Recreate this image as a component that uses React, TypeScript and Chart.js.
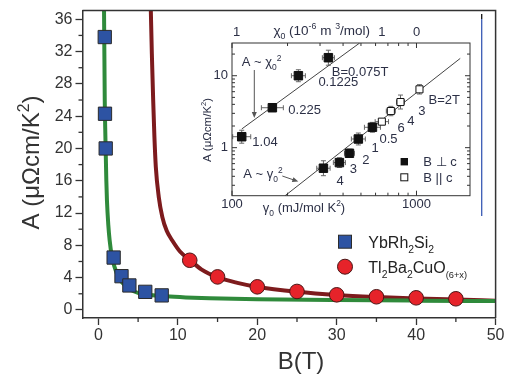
import React, { useEffect, useRef } from "react";
import { Chart, registerables } from "chart.js";

Chart.register(...registerables);

const FONT = '"Liberation Sans", Arial, Helvetica, sans-serif';

// ---------------- main panel data ----------------
const ybField = [0.8, 0.83, 0.92, 1.92, 2.91, 3.9, 5.9, 7.97];
const ybA = [33.8, 24.3, 20.0, 6.49, 4.18, 3.03, 2.24, 1.8];
const tlField = [11.5, 15, 20, 25, 30, 35, 40, 45];
const tlA = [6.15, 4.09, 2.86, 2.29, 1.87, 1.63, 1.5, 1.38];

const ybFitField = [0.69, 0.71, 0.76, 0.8, 0.86, 0.92, 1.0, 1.08, 1.25, 1.42, 1.7, 2.04, 2.5, 3.07, 4, 5.15, 6.5, 8.5, 11, 14, 20, 30, 40, 50];
const ybFitA = [40, 37.1, 31, 26, 22.5, 19.7, 16, 13.5, 10.5, 8.6, 6.6, 5.3, 4.1, 3.3, 2.55, 2.05, 1.85, 1.68, 1.55, 1.45, 1.33, 1.22, 1.15, 1.1];
const tlFitField = [6.55, 6.6, 6.75, 6.9, 7.05, 7.23, 7.6, 8.05, 8.6, 9.3, 10.3, 11.5, 13, 15, 17.5, 20, 25, 30, 35, 40, 45, 50];
const tlFitA = [40, 37.1, 31, 25.9, 21.5, 17.7, 14, 11.5, 9.8, 8.6, 7.2, 6.2, 5.0, 4.05, 3.35, 2.85, 2.25, 1.85, 1.6, 1.42, 1.28, 1.15];

const xTicks = [0, 10, 20, 30, 40, 50];
const xMinorTicks = [5, 15, 25, 35, 45];
const yTicks = [0, 4, 8, 12, 16, 20, 24, 28, 32, 36];
const yMinorTicks = [2, 6, 10, 14, 18, 22, 26, 30, 34];

const legendNames = ["YbRh2Si2", "Tl2Ba2CuO(6+x)"];

// ---------------- inset data ----------------
const chiGamma = [112.9, 165.5, 229, 333];
const chiA = [1.42, 3.59, 10, 17.8];
const chiLabels = ["1.04", "0.225", "0.1225", "B=0.075T"];
const chiGammaErr = [1.119, 1.147, 1.091, 1.078];
const chiAErr = [1.231, 1, 1.211, 1.271];

const perpGamma = [313, 382, 433, 484, 577];
const perpA = [0.518, 0.62, 0.836, 1.32, 1.92];
const perpLabels = ["4", "3", "2", "1", "0.5"];
const perpGammaErr = [1.087, 1.078, 1.064, 1.091, 1.105];
const perpAErr = [1.27, 1.17, 1.137, 1.21, 1.17];

const paraGamma = [649, 726, 819, 1038];
const paraA = [2.3, 3.23, 4.31, 6.47];
const paraLabels = ["6", "4", "3", "B=2T"];
const paraGammaErr = [1.087, 1.058, 1.051, 1.038];
const paraAErr = [1.1, 1.162, 1.25, 1.162];

const chiLineGamma = [113, 492];
const chiLineA = [1.82, 28.5];
const gammaLineGamma = [194, 1726];
const gammaLineA = [0.215, 17.4];

const insetXMajor = [100, 1000];
const insetXMajorLabels = ["100", "1000"];
const insetXMinor = [200, 300, 400, 500, 600, 700, 800, 900];
const insetYMajor = [1, 10];
const insetYMajorLabels = ["1", "10"];
const insetYMinor = [0.3, 0.4, 0.5, 0.6, 0.7, 0.8, 0.9, 2, 3, 4, 5, 6, 7, 8, 9, 20];
const chiTickValues = [106, 649, 1000];
const chiTickLabels = ["1", "1", "0"];

// ---------------- styles ----------------
const BLUE = "#2d53a3";
const RED = "#e6232a";
const GREEN = "#2f8a3b";
const DARKRED = "#7d1b1d";
const AXIS = "#333333";
const INK = "#2c3046";

type Seg = { t: string; k?: "sub" | "sup"; s?: number };

function drawRich(ctx: any, segs: Seg[], x: number, y: number, size: number, align: string, color: string) {
  const sizes = segs.map((s) => (s.k ? size * (s.s || 0.65) : size));
  const widths = segs.map((s, i) => {
    ctx.font = `${sizes[i]}px ${FONT}`;
    return ctx.measureText(s.t).width;
  });
  const total = widths.reduce((a, b) => a + b, 0);
  let cx = align === "left" ? x : align === "center" ? x - total / 2 : x - total;
  const base = y + size * 0.36;
  ctx.fillStyle = color;
  ctx.textAlign = "left";
  ctx.textBaseline = "alphabetic";
  segs.forEach((s, i) => {
    ctx.font = `${sizes[i]}px ${FONT}`;
    const dy = s.k === "sub" ? size * 0.3 : s.k === "sup" ? -size * 0.42 : 0;
    ctx.fillText(s.t, cx, base + dy);
    cx += widths[i];
  });
}

const mainPlugin = {
  id: "mainDecor",
  afterDraw(chart: any) {
    const { ctx, chartArea: a } = chart;
    const x = chart.scales.x;
    const y = chart.scales.y;
    ctx.save();
    ctx.strokeStyle = AXIS;
    ctx.lineWidth = 1.5;
    ctx.beginPath();
    ctx.moveTo(a.left, a.top);
    ctx.lineTo(a.right, a.top);
    ctx.lineTo(a.right, a.bottom);
    ctx.stroke();

    ctx.lineWidth = 1.3;
    xMinorTicks.forEach((v) => {
      const px = x.getPixelForValue(v);
      ctx.beginPath();
      ctx.moveTo(px, a.bottom);
      ctx.lineTo(px, a.bottom + 4);
      ctx.stroke();
    });
    yMinorTicks.forEach((v) => {
      const py = y.getPixelForValue(v);
      ctx.beginPath();
      ctx.moveTo(a.left - 4, py);
      ctx.lineTo(a.left, py);
      ctx.stroke();
    });

    // axis titles
    ctx.fillStyle = AXIS;
    ctx.font = `24px ${FONT}`;
    ctx.textAlign = "center";
    ctx.textBaseline = "middle";
    ctx.fillText("B(T)", 301, 362);
    ctx.save();
    ctx.translate(30, 162.5);
    ctx.rotate(-Math.PI / 2);
    drawRich(ctx, [{ t: "A (μΩcm/K" }, { t: "2", k: "sup" }, { t: ")" }], 0, 0, 24, "center", AXIS);
    ctx.restore();

    // legend
    ctx.fillStyle = BLUE;
    ctx.strokeStyle = "#2b2b2b";
    ctx.lineWidth = 1;
    ctx.fillRect(338.5, 235.2, 13, 13);
    ctx.strokeRect(338.5, 235.2, 13, 13);
    drawRich(ctx, [{ t: "YbRh" }, { t: "2", k: "sub" }, { t: "Si" }, { t: "2", k: "sub" }], 368.3, 242, 16, "left", "#222");
    ctx.beginPath();
    ctx.arc(345, 266.7, 7.5, 0, Math.PI * 2);
    ctx.fillStyle = RED;
    ctx.fill();
    ctx.strokeStyle = "#4a1515";
    ctx.stroke();
    drawRich(
      ctx,
      [{ t: "Tl" }, { t: "2", k: "sub" }, { t: "Ba" }, { t: "2", k: "sub" }, { t: "CuO" }, { t: "(6+x)", k: "sub", s: 0.58 }],
      368.3,
      267,
      16,
      "left",
      "#222"
    );

    // stray vertical rule at right of the inset
    ctx.strokeStyle = "#111";
    ctx.lineWidth = 1.3;
    ctx.beginPath();
    ctx.moveTo(481.7, 14);
    ctx.lineTo(481.7, 19);
    ctx.stroke();
    ctx.strokeStyle = "#3a5bb5";
    ctx.beginPath();
    ctx.moveTo(481.7, 19);
    ctx.lineTo(481.7, 216);
    ctx.stroke();
    ctx.restore();
  },
};

// inset canvas placement (page coordinates)
const OX = 190;
const OY = 10;

const errorSets = [
  { g: chiGamma, a: chiA, ge: chiGammaErr, ae: chiAErr },
  { g: perpGamma, a: perpA, ge: perpGammaErr, ae: perpAErr },
  { g: paraGamma, a: paraA, ge: paraGammaErr, ae: paraAErr },
];

const chiLabelOffsets = [
  [10.6, 5],
  [16, 1.3],
  [20, 5.3],
  [3.4, 14],
];
const perpLabelOffsets = [
  [13.1, 11.7],
  [10.4, 5.6],
  [12.8, 6],
  [13.1, 8.3],
  [7, 11],
];
const paraLabelOffsets = [
  [15.7, 5.6],
  [16.4, 9],
  [17.8, 8.7],
  [9, 9.7],
];

function arrowHead(ctx: any, x0: number, y0: number, x1: number, y1: number) {
  const ang = Math.atan2(y1 - y0, x1 - x0);
  const L = 6;
  const W = 2.5;
  ctx.beginPath();
  ctx.moveTo(x1, y1);
  ctx.lineTo(x1 - L * Math.cos(ang) + W * Math.sin(ang), y1 - L * Math.sin(ang) - W * Math.cos(ang));
  ctx.lineTo(x1 - L * Math.cos(ang) - W * Math.sin(ang), y1 - L * Math.sin(ang) + W * Math.cos(ang));
  ctx.closePath();
  ctx.fill();
}

const insetPlugin = {
  id: "insetDecor",
  beforeDatasetsDraw(chart: any) {
    const { ctx } = chart;
    const x = chart.scales.x;
    const y = chart.scales.y;
    ctx.save();
    ctx.strokeStyle = "#666";
    ctx.lineWidth = 1;
    errorSets.forEach((s) => {
      s.g.forEach((g, i) => {
        const px = x.getPixelForValue(g);
        const py = y.getPixelForValue(s.a[i]);
        if (s.ge[i] > 1) {
          const x0 = x.getPixelForValue(g / s.ge[i]);
          const x1 = x.getPixelForValue(g * s.ge[i]);
          ctx.beginPath();
          ctx.moveTo(x0, py);
          ctx.lineTo(x1, py);
          ctx.moveTo(x0, py - 2.5);
          ctx.lineTo(x0, py + 2.5);
          ctx.moveTo(x1, py - 2.5);
          ctx.lineTo(x1, py + 2.5);
          ctx.stroke();
        }
        if (s.ae[i] > 1) {
          const y0 = y.getPixelForValue(s.a[i] / s.ae[i]);
          const y1 = y.getPixelForValue(s.a[i] * s.ae[i]);
          ctx.beginPath();
          ctx.moveTo(px, y0);
          ctx.lineTo(px, y1);
          ctx.moveTo(px - 2.5, y0);
          ctx.lineTo(px + 2.5, y0);
          ctx.moveTo(px - 2.5, y1);
          ctx.lineTo(px + 2.5, y1);
          ctx.stroke();
        }
      });
    });
    ctx.restore();
  },
  afterDraw(chart: any) {
    const { ctx, chartArea: a } = chart;
    const x = chart.scales.x;
    const y = chart.scales.y;
    ctx.save();
    ctx.strokeStyle = AXIS;
    ctx.lineWidth = 1;
    ctx.strokeRect(a.left, a.top, a.right - a.left, a.bottom - a.top);

    const tickX = (v: number, len: number) => {
      const px = x.getPixelForValue(v);
      ctx.beginPath();
      ctx.moveTo(px, a.bottom);
      ctx.lineTo(px, a.bottom - len);
      ctx.moveTo(px, a.top);
      ctx.lineTo(px, a.top + len);
      ctx.stroke();
    };
    const tickY = (v: number, len: number) => {
      const py = y.getPixelForValue(v);
      ctx.beginPath();
      ctx.moveTo(a.left, py);
      ctx.lineTo(a.left + len, py);
      ctx.moveTo(a.right, py);
      ctx.lineTo(a.right - len, py);
      ctx.stroke();
    };
    insetXMajor.forEach((v) => tickX(v, 5));
    insetXMinor.forEach((v) => tickX(v, 3));
    insetYMajor.forEach((v) => tickY(v, 5));
    insetYMinor.forEach((v) => tickY(v, 3));

    // tick labels
    ctx.fillStyle = INK;
    ctx.font = `13px ${FONT}`;
    ctx.textBaseline = "middle";
    ctx.textAlign = "center";
    insetXMajor.forEach((v, i) => ctx.fillText(insetXMajorLabels[i], x.getPixelForValue(v), a.bottom + 8.5));
    chiTickValues.forEach((v, i) => ctx.fillText(chiTickLabels[i], x.getPixelForValue(v), a.top - 11));
    ctx.textAlign = "right";
    insetYMajor.forEach((v, i) => ctx.fillText(insetYMajorLabels[i], a.left - 4, y.getPixelForValue(v)));

    // axis titles
    drawRich(ctx, [{ t: "γ" }, { t: "0", k: "sub" }, { t: " (mJ/mol K" }, { t: "2", k: "sup" }, { t: ")" }], 304 - OX, 207 - OY, 13, "center", INK);
    drawRich(
      ctx,
      [{ t: "χ" }, { t: "0", k: "sub" }, { t: " (10" }, { t: "-6", k: "sup" }, { t: " m " }, { t: "3", k: "sup" }, { t: "/mol)" }],
      321.7 - OX,
      30 - OY,
      13.5,
      "center",
      INK
    );
    ctx.save();
    ctx.translate(207 - OX, 130 - OY);
    ctx.rotate(-Math.PI / 2);
    drawRich(ctx, [{ t: "A (μΩcm/K" }, { t: "2", k: "sup" }, { t: ")" }], 0, 0, 11.5, "center", INK);
    ctx.restore();

    // point annotations
    const annotate = (gs: number[], as: number[], labels: string[], offs: number[][]) => {
      gs.forEach((g, i) => {
        const px = x.getPixelForValue(g);
        const py = y.getPixelForValue(as[i]);
        drawRich(ctx, [{ t: labels[i] }], px + offs[i][0], py + offs[i][1], 13, "left", INK);
      });
    };
    annotate(chiGamma, chiA, chiLabels, chiLabelOffsets);
    annotate(perpGamma, perpA, perpLabels, perpLabelOffsets);
    annotate(paraGamma, paraA, paraLabels, paraLabelOffsets);

    drawRich(ctx, [{ t: "A ~ χ" }, { t: "0", k: "sub" }, { t: "2", k: "sup" }], 241.7 - OX, 61.7 - OY, 13, "left", INK);
    drawRich(ctx, [{ t: "A ~ γ" }, { t: "0", k: "sub" }, { t: "2", k: "sup" }], 243.3 - OX, 173.3 - OY, 13, "left", INK);

    // arrows
    ctx.strokeStyle = "#555";
    ctx.fillStyle = "#555";
    ctx.lineWidth = 1;
    ctx.beginPath();
    ctx.moveTo(254.3 - OX, 70 - OY);
    ctx.lineTo(254.3 - OX, 112 - OY);
    ctx.stroke();
    arrowHead(ctx, 254.3 - OX, 70 - OY, 254.3 - OX, 118 - OY);
    ctx.beginPath();
    ctx.moveTo(282.3 - OX, 176 - OY);
    ctx.lineTo(293 - OX, 179.7 - OY);
    ctx.stroke();
    arrowHead(ctx, 282.3 - OX, 176 - OY, 298.3 - OX, 181.5 - OY);

    // legend
    ctx.fillStyle = "#111";
    ctx.fillRect(404.3 - OX - 3.7, 161.7 - OY - 3.7, 7.4, 7.4);
    ctx.fillStyle = "#fff";
    ctx.strokeStyle = "#111";
    ctx.fillRect(404.3 - OX - 3.5, 177.3 - OY - 3.5, 7, 7);
    ctx.strokeRect(404.3 - OX - 3.5, 177.3 - OY - 3.5, 7, 7);
    drawRich(ctx, [{ t: "B ⊥ c" }], 423.3 - OX, 161.7 - OY, 13, "left", INK);
    drawRich(ctx, [{ t: "B || c" }], 423.3 - OX, 177.3 - OY, 13, "left", INK);
    ctx.restore();
  },
};

const pts = (xs: number[], ys: number[]) => xs.map((v, i) => ({ x: v, y: ys[i] }));

export default function App() {
  const mainRef = useRef<HTMLCanvasElement>(null);
  const insetRef = useRef<HTMLCanvasElement>(null);

  useEffect(() => {
    const tickFont = { family: FONT, size: 16 };
    const main = new Chart(mainRef.current as HTMLCanvasElement, {
      type: "scatter",
      data: {
        datasets: [
          {
            label: legendNames[0],
            data: pts(ybField, ybA),
            pointStyle: "rect",
            pointRadius: 9.4,
            pointBackgroundColor: BLUE,
            pointBorderColor: "#2b2b2b",
            pointBorderWidth: 1,
          },
          {
            label: legendNames[1],
            data: pts(tlField, tlA),
            pointStyle: "circle",
            pointRadius: 7.3,
            pointBackgroundColor: RED,
            pointBorderColor: "#4a1515",
            pointBorderWidth: 1,
          },
          {
            label: "fit1",
            data: pts(ybFitField, ybFitA),
            showLine: true,
            pointRadius: 0,
            borderColor: GREEN,
            borderWidth: 4,
            cubicInterpolationMode: "monotone",
            fill: false,
            clip: 0,
          },
          {
            label: "fit2",
            data: pts(tlFitField, tlFitA),
            showLine: true,
            pointRadius: 0,
            borderColor: DARKRED,
            borderWidth: 4,
            cubicInterpolationMode: "monotone",
            fill: false,
            clip: 0,
          },
        ],
      } as any,
      options: {
        animation: false,
        responsive: false,
        events: [],
        layout: { padding: { left: 0, top: 9, right: 5.5, bottom: 0 } },
        plugins: { legend: { display: false }, tooltip: { enabled: false } },
        scales: {
          x: {
            type: "linear",
            min: -2,
            max: 50,
            afterBuildTicks: (s: any) => {
              s.ticks = xTicks.map((v) => ({ value: v }));
            },
            afterFit: (s: any) => {
              s.height = 58;
              s.paddingLeft = 0;
              s.paddingRight = 0;
            },
            grid: { drawOnChartArea: false, tickLength: 7, tickColor: AXIS, tickWidth: 1.3 },
            border: { color: AXIS, width: 1.5 },
            ticks: { autoSkip: false, maxRotation: 0, padding: 1, color: AXIS, font: tickFont },
          },
          y: {
            type: "linear",
            min: -1,
            max: 37.1,
            afterBuildTicks: (s: any) => {
              s.ticks = yTicks.map((v) => ({ value: v }));
            },
            afterFit: (s: any) => {
              s.width = 82.5;
              s.paddingTop = 0;
              s.paddingBottom = 0;
            },
            grid: { drawOnChartArea: false, tickLength: 7, tickColor: AXIS, tickWidth: 1.3 },
            border: { color: AXIS, width: 1.5 },
            ticks: { autoSkip: false, padding: 3, color: AXIS, font: tickFont },
          },
        },
      } as any,
      plugins: [mainPlugin],
    });

    const inset = new Chart(insetRef.current as HTMLCanvasElement, {
      type: "scatter",
      data: {
        datasets: [
          {
            label: "chi",
            data: pts(chiGamma, chiA),
            pointStyle: "rect",
            pointRadius: 6,
            pointBackgroundColor: "#111",
            pointBorderColor: "#111",
            pointBorderWidth: 1,
          },
          {
            label: "perp",
            data: pts(perpGamma, perpA),
            pointStyle: "rect",
            pointRadius: 6,
            pointBackgroundColor: "#111",
            pointBorderColor: "#111",
            pointBorderWidth: 1,
          },
          {
            label: "para",
            data: pts(paraGamma, paraA),
            pointStyle: "rect",
            pointRadius: 5,
            pointBackgroundColor: "#fff",
            pointBorderColor: "#111",
            pointBorderWidth: 1,
          },
          {
            label: "chiLine",
            data: pts(chiLineGamma, chiLineA),
            showLine: true,
            pointRadius: 0,
            borderColor: "#444",
            borderWidth: 1,
            fill: false,
            clip: 0,
          },
          {
            label: "gammaLine",
            data: pts(gammaLineGamma, gammaLineA),
            showLine: true,
            pointRadius: 0,
            borderColor: "#444",
            borderWidth: 1,
            fill: false,
            clip: 0,
          },
        ],
      } as any,
      options: {
        animation: false,
        responsive: false,
        events: [],
        layout: { padding: { left: 232 - OX, top: 43 - OY, right: 295 - (470 - OX), bottom: 210 - (195.7 - OY) } },
        plugins: { legend: { display: false }, tooltip: { enabled: false } },
        scales: {
          x: { type: "logarithmic", min: 100, max: 1950, display: false },
          y: { type: "logarithmic", min: 0.215, max: 28.5, display: false },
        },
      } as any,
      plugins: [insetPlugin],
    });

    return () => {
      main.destroy();
      inset.destroy();
    };
  }, []);

  return (
    <div style={{ position: "absolute", left: 0, top: 0, width: 506, height: 376, background: "#fff", overflow: "hidden" }}>
      <canvas ref={mainRef} width={506} height={376} style={{ position: "absolute", left: 0, top: 0 }} />
      <canvas ref={insetRef} width={295} height={210} style={{ position: "absolute", left: OX, top: OY }} />
    </div>
  );
}
